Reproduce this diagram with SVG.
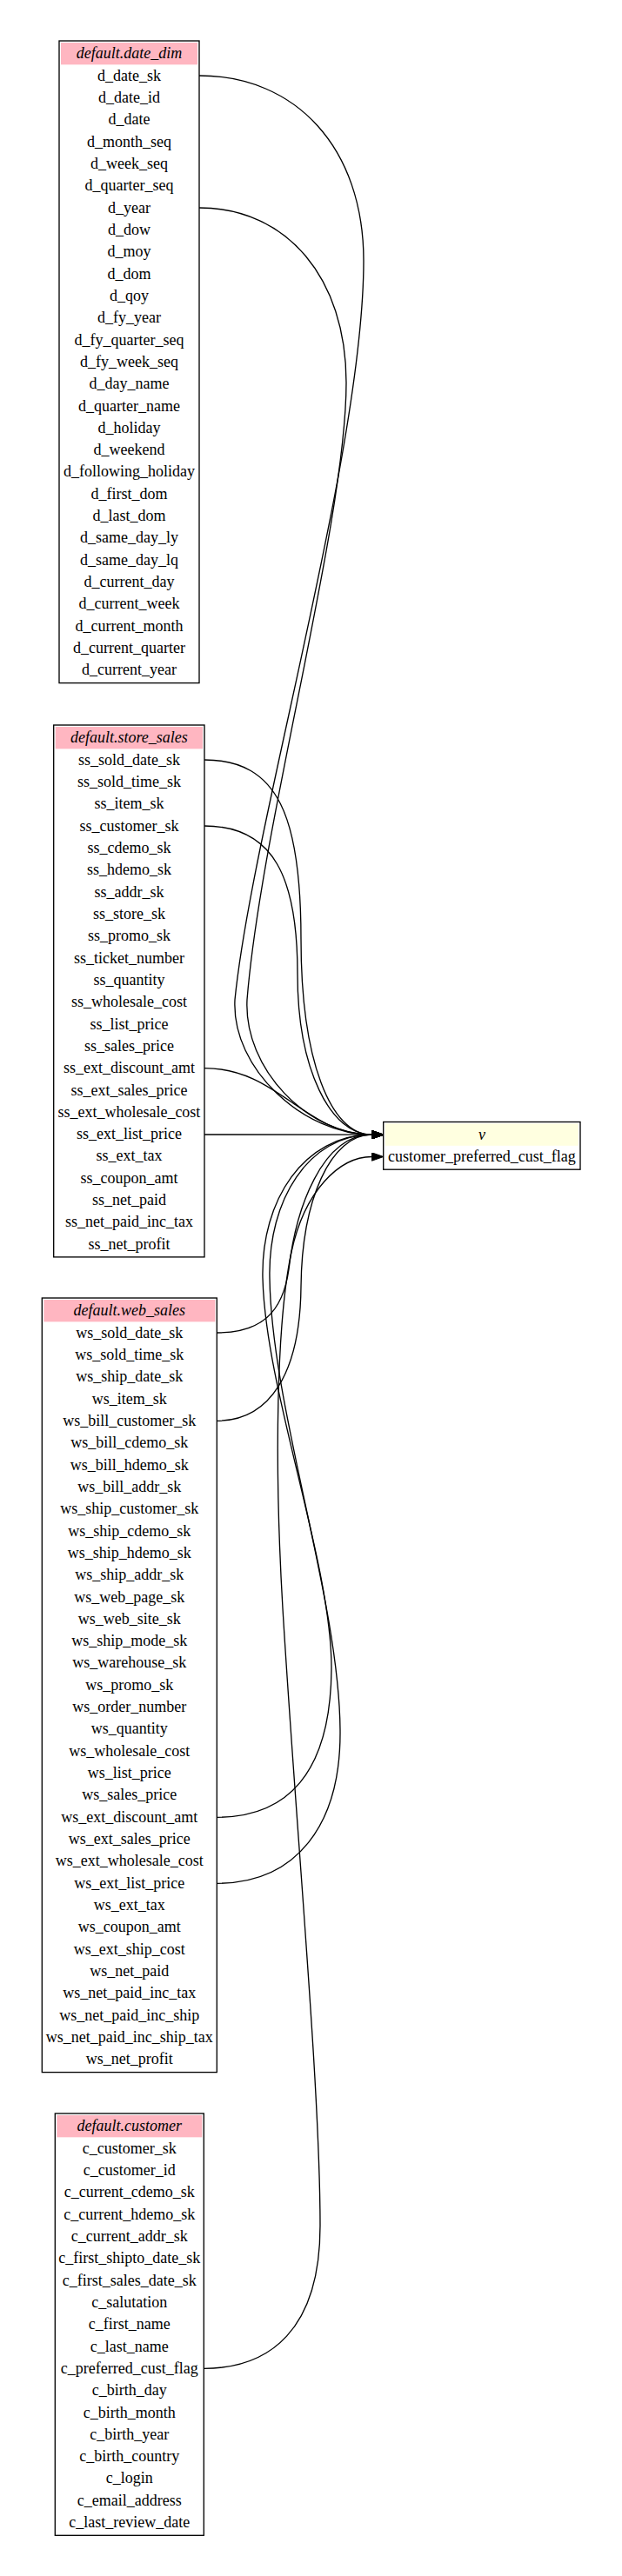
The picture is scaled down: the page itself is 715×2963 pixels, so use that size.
<svg xmlns="http://www.w3.org/2000/svg" width="715" height="2963" viewBox="0 0 715 2963">
<style>
text{font-family:"Liberation Serif","Times New Roman",serif;font-size:18px;text-anchor:middle;fill:#000}
.h{font-style:italic}
.box{fill:#fff;stroke:#000;stroke-width:1.33}
.ph{fill:#ffb6c1}
.yh{fill:#ffffe0}
.e{fill:none;stroke:#000;stroke-width:1.33;marker-end:url(#ah)}
</style>
<defs>
<marker id="ah" markerUnits="userSpaceOnUse" markerWidth="14" markerHeight="10" viewBox="0 0 14 10" refX="0" refY="5" orient="auto">
<path d="M0,0.3 L13.4,5 L0,9.7 z" fill="#000" stroke="#000" stroke-width="1"/>
</marker>
</defs>
<rect width="715" height="2963" fill="#fff"/>

<g id="date_dim">
<rect class="box" x="68" y="47" width="161" height="738.6"/>
<rect class="ph" x="70" y="49" width="157" height="25.33"/>
<text class="h" x="148.5" y="67.2">default.date_dim</text>
<text x="148.5" y="92.5">d_date_sk</text>
<text x="148.5" y="117.8">d_date_id</text>
<text x="148.5" y="143.2">d_date</text>
<text x="148.5" y="168.5">d_month_seq</text>
<text x="148.5" y="193.8">d_week_seq</text>
<text x="148.5" y="219.2">d_quarter_seq</text>
<text x="148.5" y="244.5">d_year</text>
<text x="148.5" y="269.8">d_dow</text>
<text x="148.5" y="295.1">d_moy</text>
<text x="148.5" y="320.5">d_dom</text>
<text x="148.5" y="345.8">d_qoy</text>
<text x="148.5" y="371.1">d_fy_year</text>
<text x="148.5" y="396.5">d_fy_quarter_seq</text>
<text x="148.5" y="421.8">d_fy_week_seq</text>
<text x="148.5" y="447.1">d_day_name</text>
<text x="148.5" y="472.5">d_quarter_name</text>
<text x="148.5" y="497.8">d_holiday</text>
<text x="148.5" y="523.1">d_weekend</text>
<text x="148.5" y="548.4">d_following_holiday</text>
<text x="148.5" y="573.8">d_first_dom</text>
<text x="148.5" y="599.1">d_last_dom</text>
<text x="148.5" y="624.4">d_same_day_ly</text>
<text x="148.5" y="649.8">d_same_day_lq</text>
<text x="148.5" y="675.1">d_current_day</text>
<text x="148.5" y="700.4">d_current_week</text>
<text x="148.5" y="725.8">d_current_month</text>
<text x="148.5" y="751.1">d_current_quarter</text>
<text x="148.5" y="776.4">d_current_year</text>
</g>

<g id="store_sales">
<rect class="box" x="61.7" y="834" width="173.3" height="611.9"/>
<rect class="ph" x="63.7" y="836" width="169.3" height="25.33"/>
<text class="h" x="148.4" y="854.2">default.store_sales</text>
<text x="148.4" y="879.5">ss_sold_date_sk</text>
<text x="148.4" y="904.8">ss_sold_time_sk</text>
<text x="148.4" y="930.2">ss_item_sk</text>
<text x="148.4" y="955.5">ss_customer_sk</text>
<text x="148.4" y="980.8">ss_cdemo_sk</text>
<text x="148.4" y="1006.2">ss_hdemo_sk</text>
<text x="148.4" y="1031.5">ss_addr_sk</text>
<text x="148.4" y="1056.8">ss_store_sk</text>
<text x="148.4" y="1082.1">ss_promo_sk</text>
<text x="148.4" y="1107.5">ss_ticket_number</text>
<text x="148.4" y="1132.8">ss_quantity</text>
<text x="148.4" y="1158.1">ss_wholesale_cost</text>
<text x="148.4" y="1183.5">ss_list_price</text>
<text x="148.4" y="1208.8">ss_sales_price</text>
<text x="148.4" y="1234.1">ss_ext_discount_amt</text>
<text x="148.4" y="1259.5">ss_ext_sales_price</text>
<text x="148.4" y="1284.8">ss_ext_wholesale_cost</text>
<text x="148.4" y="1310.1">ss_ext_list_price</text>
<text x="148.4" y="1335.4">ss_ext_tax</text>
<text x="148.4" y="1360.8">ss_coupon_amt</text>
<text x="148.4" y="1386.1">ss_net_paid</text>
<text x="148.4" y="1411.4">ss_net_paid_inc_tax</text>
<text x="148.4" y="1436.8">ss_net_profit</text>
</g>

<g id="web_sales">
<rect class="box" x="48.3" y="1493" width="201" height="890.6"/>
<rect class="ph" x="50.3" y="1495" width="197" height="25.33"/>
<text class="h" x="148.8" y="1513.2">default.web_sales</text>
<text x="148.8" y="1538.5">ws_sold_date_sk</text>
<text x="148.8" y="1563.8">ws_sold_time_sk</text>
<text x="148.8" y="1589.2">ws_ship_date_sk</text>
<text x="148.8" y="1614.5">ws_item_sk</text>
<text x="148.8" y="1639.8">ws_bill_customer_sk</text>
<text x="148.8" y="1665.2">ws_bill_cdemo_sk</text>
<text x="148.8" y="1690.5">ws_bill_hdemo_sk</text>
<text x="148.8" y="1715.8">ws_bill_addr_sk</text>
<text x="148.8" y="1741.1">ws_ship_customer_sk</text>
<text x="148.8" y="1766.5">ws_ship_cdemo_sk</text>
<text x="148.8" y="1791.8">ws_ship_hdemo_sk</text>
<text x="148.8" y="1817.1">ws_ship_addr_sk</text>
<text x="148.8" y="1842.5">ws_web_page_sk</text>
<text x="148.8" y="1867.8">ws_web_site_sk</text>
<text x="148.8" y="1893.1">ws_ship_mode_sk</text>
<text x="148.8" y="1918.4">ws_warehouse_sk</text>
<text x="148.8" y="1943.8">ws_promo_sk</text>
<text x="148.8" y="1969.1">ws_order_number</text>
<text x="148.8" y="1994.4">ws_quantity</text>
<text x="148.8" y="2019.8">ws_wholesale_cost</text>
<text x="148.8" y="2045.1">ws_list_price</text>
<text x="148.8" y="2070.4">ws_sales_price</text>
<text x="148.8" y="2095.8">ws_ext_discount_amt</text>
<text x="148.8" y="2121.1">ws_ext_sales_price</text>
<text x="148.8" y="2146.4">ws_ext_wholesale_cost</text>
<text x="148.8" y="2171.8">ws_ext_list_price</text>
<text x="148.8" y="2197.1">ws_ext_tax</text>
<text x="148.8" y="2222.4">ws_coupon_amt</text>
<text x="148.8" y="2247.8">ws_ext_ship_cost</text>
<text x="148.8" y="2273.1">ws_net_paid</text>
<text x="148.8" y="2298.4">ws_net_paid_inc_tax</text>
<text x="148.8" y="2323.7">ws_net_paid_inc_ship</text>
<text x="148.8" y="2349.1">ws_net_paid_inc_ship_tax</text>
<text x="148.8" y="2374.4">ws_net_profit</text>
</g>

<g id="customer">
<rect class="box" x="63.3" y="2431" width="171" height="485.3"/>
<rect class="ph" x="65.3" y="2433" width="167" height="25.33"/>
<text class="h" x="148.8" y="2451.2">default.customer</text>
<text x="148.8" y="2476.5">c_customer_sk</text>
<text x="148.8" y="2501.8">c_customer_id</text>
<text x="148.8" y="2527.2">c_current_cdemo_sk</text>
<text x="148.8" y="2552.5">c_current_hdemo_sk</text>
<text x="148.8" y="2577.8">c_current_addr_sk</text>
<text x="148.8" y="2603.2">c_first_shipto_date_sk</text>
<text x="148.8" y="2628.5">c_first_sales_date_sk</text>
<text x="148.8" y="2653.8">c_salutation</text>
<text x="148.8" y="2679.1">c_first_name</text>
<text x="148.8" y="2704.5">c_last_name</text>
<text x="148.8" y="2729.8">c_preferred_cust_flag</text>
<text x="148.8" y="2755.1">c_birth_day</text>
<text x="148.8" y="2780.5">c_birth_month</text>
<text x="148.8" y="2805.8">c_birth_year</text>
<text x="148.8" y="2831.1">c_birth_country</text>
<text x="148.8" y="2856.4">c_login</text>
<text x="148.8" y="2881.8">c_email_address</text>
<text x="148.8" y="2907.1">c_last_review_date</text>
</g>

<g id="v">
<rect class="box" x="440.7" y="1290.5" width="226.3" height="54.7"/>
<rect class="yh" x="442.7" y="1292.5" width="222.3" height="25.33"/>
<text class="h" x="553.9" y="1310.7">v</text>
<text x="553.9" y="1336">customer_preferred_cust_flag</text>
</g>

<g id="connectors">
<path class="e" d="M229,87 C340,87 418,170 418,300 C418,520 290,950 270,1150 C266,1230 350,1305.2 427.4,1305.2"/>
<path class="e" d="M229,239 C330,239 398,320 398,440 C398,600 300,950 284,1150 C280,1230 355,1305.2 427.4,1305.2"/>
<path class="e" d="M235,874 C320,874 346,940 346,1080 C346,1220 380,1305.2 427.4,1305.2"/>
<path class="e" d="M235,950 C315,950 342,1010 342,1120 C342,1230 380,1305.2 427.4,1305.2"/>
<path class="e" d="M235,1228.6 C320,1228.6 350,1305.2 427.4,1305.2"/>
<path class="e" d="M235,1305 L427.4,1305.2"/>
<path class="e" d="M249.3,1533 C300,1533 325,1510 332,1460 C340,1390 370,1305.2 427.4,1305.2"/>
<path class="e" d="M249.3,1634.3 C310,1634.3 345,1580 346,1480 C347,1380 380,1305.2 427.4,1305.2"/>
<path class="e" d="M249.3,2090.3 C330,2090.3 380,2040 381,1920 C382,1800 305,1600 302,1470 C300,1380 350,1305.2 427.4,1305.2"/>
<path class="e" d="M249.3,2166.3 C340,2166.3 392,2100 391,1990 C390,1840 312,1620 310,1470 C308,1380 355,1305.2 427.4,1305.2"/>
<path class="e" d="M234.3,2724.3 C310,2724.3 368,2680 368,2560 C368,2400 340,2100 325,1850 C315,1680 318,1520 335,1440 C350,1370 390,1330.5 427.4,1330.5"/>
</g>
</svg>
